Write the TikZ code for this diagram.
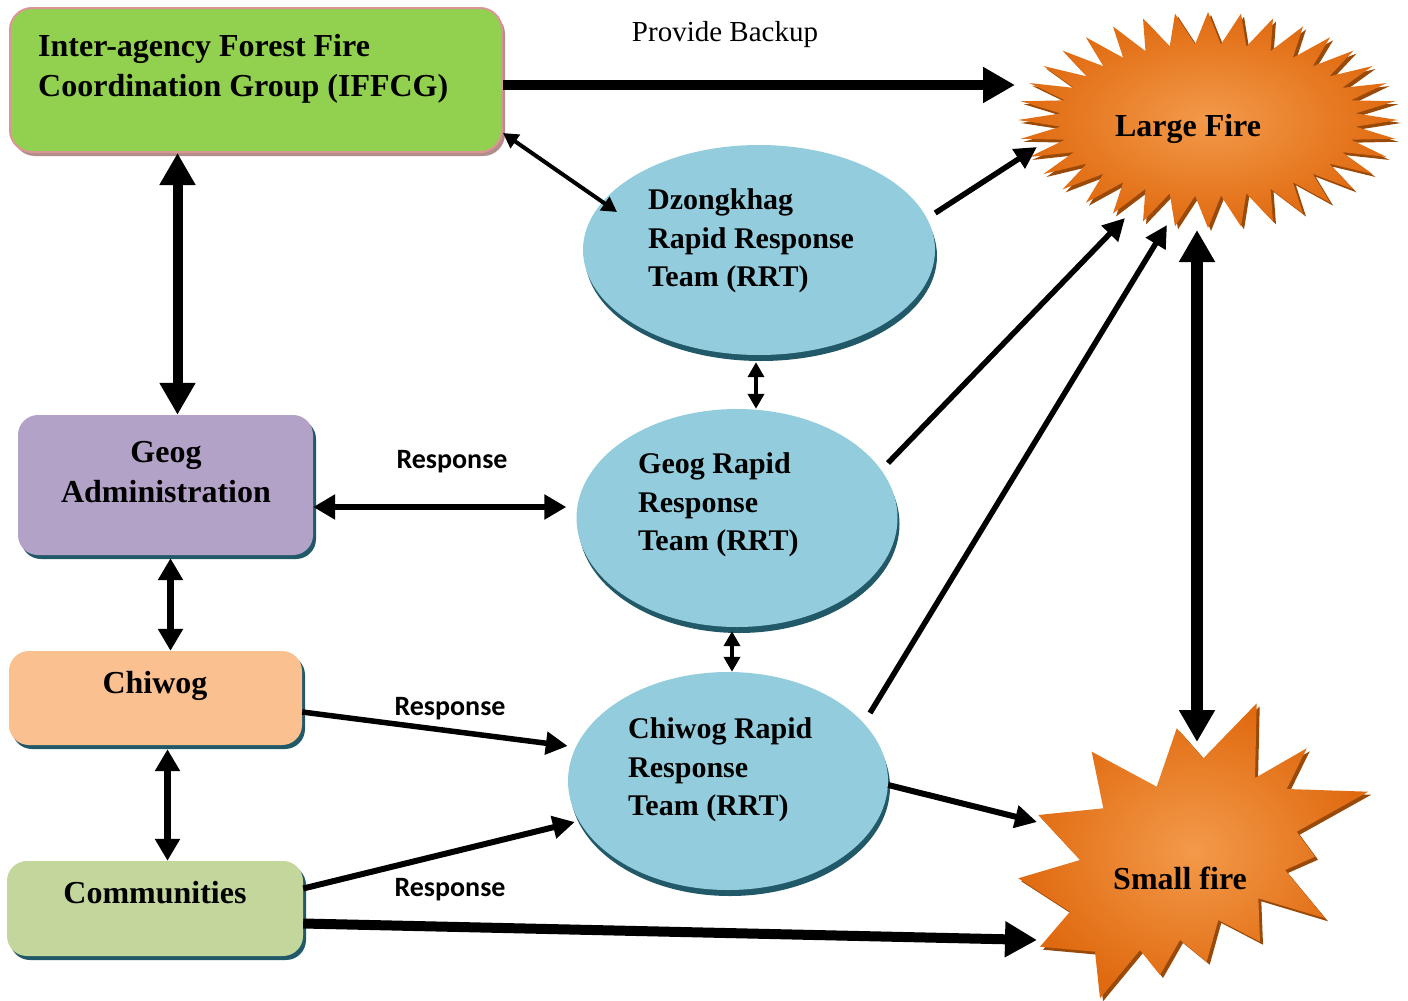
\documentclass[tikz,border=0pt]{standalone}
\usepackage{fontspec}
\setmainfont{Liberation Serif}
\newfontfamily\calibrifont{Carlito}
\usetikzlibrary{positioning, calc, shapes.geometric, shadows, arrows.meta}

\definecolor{iffcggreen}{HTML}{92D050}
\definecolor{iffcgedge}{HTML}{D99694}
\definecolor{iffcgshadow}{HTML}{B48C8C}
\definecolor{adminpurple}{HTML}{B2A2C7}
\definecolor{chiwogorange}{HTML}{FAC090}
\definecolor{commgreen}{HTML}{C3D69B}
\definecolor{rrtblue}{HTML}{93CDDD}
\definecolor{tealshadow}{HTML}{215968}
\definecolor{fireinner}{HTML}{F39A4A}
\definecolor{fireouter}{HTML}{E06A10}
\definecolor{fireshadow}{HTML}{9A4A08}

\begin{document}
\begin{tikzpicture}[x=1pt, y=-1pt,
		box/.style={rectangle, rounded corners=20pt, minimum width=295pt, minimum height=95pt, inner sep=0pt},
		boxshadow/.style={drop shadow={shadow xshift=3pt, shadow yshift=-4pt, fill=tealshadow, opacity=1}},
		rrt/.style={ellipse, fill=rrtblue, inner sep=0pt, drop shadow={shadow xshift=2pt, shadow yshift=-6pt, fill=tealshadow, opacity=1}},
		boxtext/.style={font=\bfseries\fontsize{32}{40}\selectfont, align=center, inner sep=0pt},
		rrttext/.style={font=\bfseries\fontsize{30}{38.5}\selectfont, align=left, anchor=west, inner sep=0pt},
		resp/.style={font=\calibrifont\bfseries\fontsize{28}{30}\selectfont, inner sep=0pt},
		fire/.style={inner color=fireinner, outer color=fireouter, drop shadow={shadow xshift=3pt, shadow yshift=-3pt, fill=fireshadow, opacity=1}},
		bigarr/.style={line width=10pt, -{Triangle[length=32pt, width=34pt]}},
		bigboth/.style={line width=10pt, {Triangle[length=32pt, width=34pt]}-{Triangle[length=32pt, width=34pt]}},
		midarr/.style={line width=5.5pt, -{Triangle[length=22pt, width=22pt]}},
		midboth/.style={line width=7pt, {Triangle[length=22pt, width=24pt]}-{Triangle[length=22pt, width=24pt]}},
		thinboth/.style={line width=4pt, {Triangle[length=15pt, width=16pt]}-{Triangle[length=15pt, width=16pt]}}]
			\useasboundingbox (0,0) rectangle (1408,1001);
			% boxes on the left
			\node[box, rounded corners=22pt, fill=iffcggreen, draw=iffcgedge, line width=2pt, minimum width=492pt, minimum height=144pt,
				drop shadow={shadow xshift=3pt, shadow yshift=-4pt, fill=iffcgshadow, opacity=1}] (iffcg) at (256,80) {};
			\node[box, boxshadow, fill=adminpurple, minimum height=140pt] (admin) at (165.5,485) {};
			\node[box, boxshadow, fill=chiwogorange, minimum width=293pt, minimum height=94pt] (chiwog) at (155.5,698) {};
			\node[box, boxshadow, fill=commgreen, minimum width=296pt] (comm) at (155,908.5) {};
			\node[boxtext, align=left, anchor=west] (iffcgT) at (38,69) {Inter-agency Forest Fire\\Coordination Group (IFFCG)};
			\node[boxtext] (adminT) at (166,472) {Geog\\Administration};
			\node[boxtext] (chiwogT) at (155,686) {Chiwog};
			\node[boxtext] (commT) at (155,893) {Communities};
			% rapid response teams
			\node[rrt, minimum width=352pt, minimum height=210pt] (dz) at (759,250) {};
			\node[rrt, minimum width=321pt, minimum height=218pt] (geogrrt) at (737,518) {};
			\node[rrt, minimum width=320pt, minimum height=218pt] (chirrt) at (728,781) {};
			\node[rrttext] (dzT) at (648,241) {Dzongkhag\\Rapid Response\\Team (RRT)};
			\node[rrttext] (geogrrtT) at (638,505) {Geog Rapid\\Response\\Team (RRT)};
			\node[rrttext] (chirrtT) at (628,770) {Chiwog Rapid\\Response\\Team (RRT)};
			% fires
			\path[fire, shift={(1208,120)}] (0:190pt and 108pt)
				\foreach \a in {0,10,...,350} { -- (\a+5:148pt and 76pt) -- (\a+10:190pt and 108pt) } -- cycle;
			\path[fire] (1256.7,703.3) -- (1255,778) -- (1306.7,748.3) -- (1286.7,789) -- (1368.3,791.7)
				-- (1296.7,831.7) -- (1315,856.7) -- (1285,870) -- (1325,918.3) -- (1258.3,898.3)
				-- (1260,941.7) -- (1218.3,920) -- (1206.7,961.7) -- (1180,940) -- (1160,975)
				-- (1140,950) -- (1100,998.3) -- (1095,951.7) -- (1040,946.7) -- (1070,911.7)
				-- (1018.3,878.3) -- (1080,860) -- (1038.3,815) -- (1103.3,808.3) -- (1091.7,751.7)
				-- (1156.7,786.7) -- (1176.7,728.3) -- (1203.3,758.3) -- cycle;
			\node[boxtext] (large) at (1188,129) {Large Fire};
			\node[boxtext] (small) at (1180,878) {Small fire};
			\coordinate (largeW) at (1015,85);
			\coordinate (largeSW) at (1037,147);
			\coordinate (largeS1) at (1125,218);
			\coordinate (largeS2) at (1167,225);
			\coordinate (largeS) at (1197,230);
			\coordinate (smallN) at (1197,742);
			\coordinate (smallW1) at (1037,822);
			\coordinate (smallW2) at (1037,940);
			% labels
			\node[font=\fontsize{29}{30}\selectfont, inner sep=0pt] (backup) at (725,35) {Provide Backup};
			\node[resp] (resp1) at (452,462) {Response};
			\node[resp] (resp2) at (450,709) {Response};
			\node[resp] (resp3) at (450,890) {Response};
			% connectors
			\draw[bigarr] ([yshift=-5pt]iffcg.east) -- (largeW);
			\draw[thinboth] ([yshift=-53pt]iffcg.east) -- ($(dz.center)+(-142,-38)$);
			\draw[bigboth] ([xshift=12pt]admin.north |- iffcg.south) -- ([xshift=12pt]admin.north);
			\draw[midarr] ([yshift=37pt]dz.east) -- (largeSW);
			\draw[thinboth] ([xshift=-3pt,yshift=-7pt]dz.south) -- ([xshift=-3pt]dz.south |- geogrrt.north);
			\draw[midboth, line width=5.5pt] ([yshift=-22pt]admin.east) -- ($(geogrrt.west)+(-10,-11)$);
			\draw[midarr] ($(geogrrt.center)+(151,-55)$) -- (largeS1);
			\draw[midboth] ([xshift=5pt,yshift=-3pt]admin.south) -- ([xshift=5pt]admin.south |- chiwog.north);
			\draw[thinboth] ([xshift=-5pt,yshift=-4pt]geogrrt.south) -- ([xshift=-5pt]geogrrt.south |- chirrt.north);
			\draw[midarr] ([yshift=-14pt]chiwog.east) -- ($(chirrt.west)+(0,-35)$);
			\draw[midarr] ($(chirrt.center)+(142,-68)$) -- (largeS2);
			\draw[bigboth, line width=12pt] (largeS) -- (smallN);
			\draw[midboth] ([xshift=12pt,yshift=-4pt]chiwog.south) -- ([xshift=12pt]chiwog.south |- comm.north);
			\draw[midarr, line width=6pt] ([yshift=20pt]comm.east) -- ($(chirrt.west)+(7,41)$);
			\draw[bigarr] ([yshift=-15pt]comm.east) -- (smallW2);
			\draw[midarr, line width=6pt] ([yshift=-4pt]chirrt.east) -- (smallW1);
		\end{tikzpicture}
\end{document}
